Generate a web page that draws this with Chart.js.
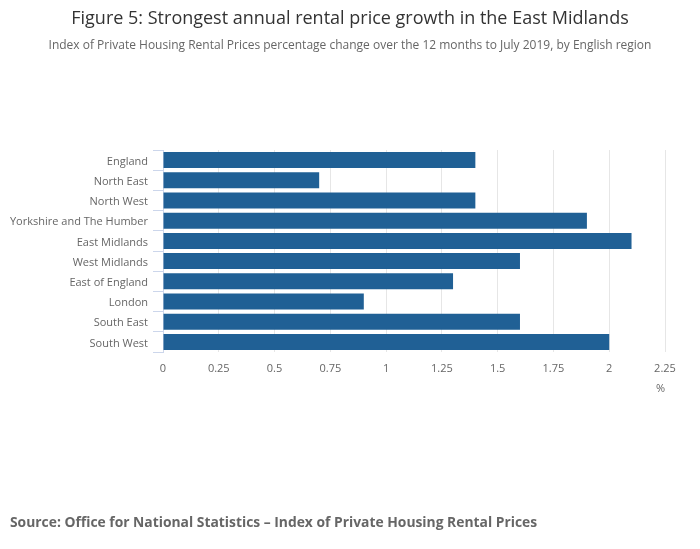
<!DOCTYPE html>
<html>
<head>
<meta charset="utf-8">
<script src="https://cdn.jsdelivr.net/npm/chart.js@4"></script>
<style>
html,body{margin:0;padding:0;background:#fff;}
#wrap{position:relative;width:700px;height:549px;overflow:hidden;font-family:"Open Sans",sans-serif;}
#title{position:absolute;left:0;top:5px;width:700px;text-align:center;font-size:18px;color:#333;}
#subtitle{position:absolute;left:0;top:36px;width:700px;text-align:center;font-size:12px;color:#666;}
#source{position:absolute;left:10px;top:512px;font-size:13.85px;font-weight:bold;color:#666;}
canvas{position:absolute;left:0;top:0;}
</style>
</head>
<body>
<div id="wrap">
<canvas id="c" width="700" height="549"></canvas>
<div id="title">Figure 5: Strongest annual rental price growth in the East Midlands</div>
<div id="subtitle">Index of Private Housing Rental Prices percentage change over the 12 months to July 2019, by English region</div>
<div id="source">Source: Office for National Statistics – Index of Private Housing Rental Prices</div>
</div>
<script>
const regions = ["England","North East","North West","Yorkshire and The Humber","East Midlands","West Midlands","East of England","London","South East","South West"];
const growth = [1.4,0.7,1.4,1.9,2.1,1.6,1.3,0.9,1.6,2.0];
const xTicks = [0,0.25,0.5,0.75,1,1.25,1.5,1.75,2,2.25];
const xTickLabels = ["0","0.25","0.5","0.75","1","1.25","1.5","1.75","2","2.25"];
const unitLabel = "%";

new Chart(document.getElementById('c'), {
  type: 'bar',
  data: {
    labels: regions,
    datasets: [{
      data: growth,
      backgroundColor: '#206095',
      borderWidth: 0,
      categoryPercentage: 1,
      barPercentage: 0.79
    }]
  },
  options: {
    indexAxis: 'y',
    responsive: false,
    animation: false,
    layout: { padding: { left: 0, right: 35, top: 150, bottom: 154 } },
    plugins: { legend: { display: false }, tooltip: { enabled: false }, title: { display: false } },
    scales: {
      x: {
        min: 0, max: 2.25,
        afterBuildTicks: (s) => { s.ticks = xTicks.map(v => ({ value: v })); },
        afterFit: (s) => { s.height = 43; },
        grid: { color: '#e6e6e6', drawTicks: false, lineWidth: 1 },
        border: { display: false },
        ticks: {
          padding: 10,
          color: '#666',
          font: { family: 'Open Sans', size: 11 },
          callback: (v, i) => xTickLabels[i]
        },
        title: {
          display: true, text: unitLabel, align: 'end', color: '#666',
          font: { family: 'Open Sans', size: 11 }, padding: { top: 4, bottom: 0 }
        }
      },
      y: {
        afterFit: (s) => { s.width = 163; },
        grid: { drawOnChartArea: false, drawTicks: true, tickLength: 10, color: '#ccd6eb', offset: true },
        border: { display: true, color: '#ccd6eb' },
        ticks: { padding: 5, labelOffset: 1.5, color: '#666', font: { family: 'Open Sans', size: 11 } }
      }
    }
  }
});
</script>
</body>
</html>
